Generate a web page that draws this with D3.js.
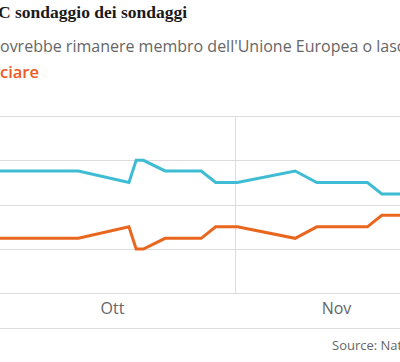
<!DOCTYPE html>
<html>
<head>
<meta charset="utf-8">
<script src="https://cdn.jsdelivr.net/npm/d3@7"></script>
<style>
  body { margin: 0; background: #fff; }
  svg { display: block; }
</style>
</head>
<body>
<svg id="chart" width="400" height="362"></svg>
<script>
// poll of polls, values in %
dates = ["2018-09-28","2018-10-10","2018-10-17","2018-10-18","2018-10-19","2018-10-22","2018-10-27",
         "2018-10-29","2018-11-01","2018-11-09","2018-11-12","2018-11-19","2018-11-21","2018-11-25"]
remain = [53.8, 53.8, 52.5, 55, 55, 53.8, 53.8, 52.5, 52.5, 53.8, 52.5, 52.5, 51.2, 51.2]
leave  = [46.2, 46.2, 47.5, 45, 45, 46.2, 46.2, 47.5, 47.5, 46.2, 47.5, 47.5, 48.8, 48.8]
grid_values = [40, 45, 50, 55, 60]
month_ticks = ["2018-10-15", "2018-11-15"]
month_labels = ["Ott", "Nov"]
divider_date = "2018-11-01"

parse = d3.timeParse("%Y-%m-%d")

svg = d3.select("#chart")
svg.append("rect").attr("width", 400).attr("height", 362).attr("fill", "#fff")

x = d3.scaleTime()
    .domain([parse("2018-10-15"), parse("2018-11-15")])
    .range([114.5, 114.5 + 224])
y = d3.scaleLinear().domain([40, 60]).range([293.3, 116])

// horizontal grid
svg.append("g").selectAll("line").data(grid_values).join("line")
    .attr("x1", 0).attr("x2", 400)
    .attr("y1", d => Math.round(y(d)) + 0.5).attr("y2", d => Math.round(y(d)) + 0.5)
    .attr("stroke", "#dcdcdc").attr("stroke-width", 1)

// month divider
svg.append("line")
    .attr("x1", Math.round(x(parse(divider_date))) - 1.5).attr("x2", Math.round(x(parse(divider_date))) - 1.5)
    .attr("y1", y(60)).attr("y2", y(40))
    .attr("stroke", "#dcdcdc").attr("stroke-width", 1)

// month labels
svg.append("g").selectAll("text").data(month_ticks).join("text")
    .attr("x", d => x(parse(d)) - 2)
    .attr("y", 314)
    .attr("text-anchor", "middle")
    .attr("font-family", "Open Sans")
    .attr("font-size", 16)
    .attr("fill", "#666")
    .text((d, i) => month_labels[i])

// bottom separator
svg.append("line").attr("x1", 0).attr("x2", 400).attr("y1", 328.5).attr("y2", 328.5)
    .attr("stroke", "#dcdcdc").attr("stroke-width", 1)

line = d3.line().x(d => x(d.date)).y(d => y(d.value))
series = [
    {name: "remain", color: "#3dbcd4", values: remain},
    {name: "leave", color: "#e9661f", values: leave}
]
series.forEach(function(s){
    data = s.values.map((v, i) => ({date: parse(dates[i]), value: v}))
    svg.append("path").datum(data)
        .attr("d", line)
        .attr("fill", "none")
        .attr("stroke", s.color)
        .attr("stroke-width", 3)
        .attr("stroke-linejoin", "miter")
})

// titles
svg.append("text").attr("x", -2).attr("y", 17.5)
    .attr("font-family", "Liberation Serif").attr("font-weight", "bold")
    .attr("font-size", 17.5).attr("fill", "#1a1a1a")
    .text("C sondaggio dei sondaggi")

svg.append("text").attr("x", 0).attr("y", 52)
    .attr("font-family", "Open Sans").attr("font-size", 16).attr("fill", "#666")
    .text("ovrebbe rimanere membro dell'Unione Europea o lasc")

svg.append("text").attr("x", 0).attr("y", 78)
    .attr("font-family", "Open Sans").attr("font-size", 16.5).attr("font-weight", 600)
    .attr("fill", "#ee5a24")
    .text("ciare")

svg.append("text").attr("x", 332).attr("y", 350)
    .attr("font-family", "Open Sans").attr("font-size", 13).attr("fill", "#666")
    .text("Source: Nat")
</script>
</body>
</html>
